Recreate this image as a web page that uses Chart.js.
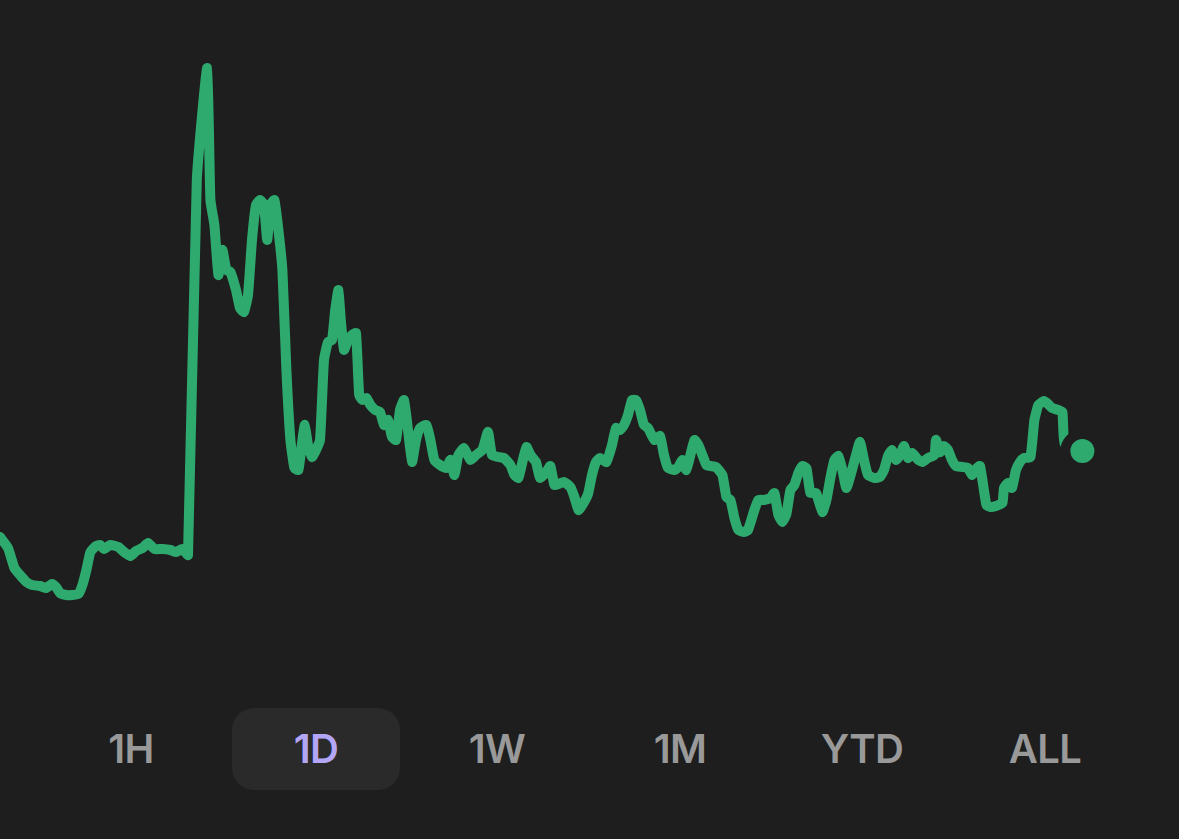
<!DOCTYPE html>
<html>
<head>
<meta charset="utf-8">
<script src="https://cdn.jsdelivr.net/npm/chart.js@4/dist/chart.umd.min.js"></script>
<style>
  html, body { margin: 0; padding: 0; background: #1e1e1e; }
  body { width: 1179px; height: 839px; position: relative; overflow: hidden; font-family: Inter, "Noto Sans", sans-serif; }
  #wrap { position: absolute; left: 0; top: 0; width: 1179px; height: 680px; }
  .btn { position: absolute; top: 708px; width: 168px; height: 82px; line-height: 82px; text-align: center;
         font-size: 40px; font-weight: 600; color: #999999; border-radius: 22px; letter-spacing: -0.6px; }
  .btn.on { background: #2a2a2a; color: #b3a6f7; }
</style>
</head>
<body>
<div id="wrap"><canvas id="grafico"></canvas></div>
<div id="botoes"></div>
<script>
// minutes since the open (1D view)
var minutos = [0,10,18,25,33,40,50,58,65,70,75,83,90,98,103,108,113,120,125,130,138,148,155,163,170,178,185,193,203,213,220,228,235,
  246,259,263,268,273,278,283,288,295,300,305,310,315,320,325,330,334,338,343,348,353,358,363,368,373,378,381,385,390,395,400,
  405,410,415,419,423,426,430,435,440,445,449,453,458,463,469,475,480,485,490,495,500,505,510,515,520,525,533,538,543,550,558,
  563,568,573,580,588,595,603,610,615,623,630,638,643,648,653,658,663,670,675,683,688,693,698,705,713,718,723,728,735,740,745,
  750,758,765,770,775,780,785,790,795,800,805,810,818,825,830,835,843,848,853,858,863,868,873,878,883,888,895,903,908,913,918,
  923,930,935,943,948,955,963,968,973,978,983,988,993,998,1003,1008,1013,1020,1028,1033,1038,1043,1048,1053,1058,1065,1070,1075,
  1080,1085,1093,1100,1105,1110,1115,1120,1125,1130,1135,1140,1148,1153,1160,1168,1170,1175,1180,1185,1190,1195,1203,1210,1215,
  1220,1225,1233,1238,1245,1253,1255,1260,1265,1270,1275,1280,1288,1293,1298,1305,1310,1315,1323,1328,1331,1353];

var precos = [46.3,45.2,43.2,42.5,41.8,41.5,41.4,41.2,41.6,41.3,40.7,40.5,40.5,40.6,41.5,43.0,44.8,45.4,45.5,45.1,45.5,45.3,44.8,44.4,44.9,45.2,45.7,45.1,45.1,45.0,44.8,45.1,44.5,
  82.0,93.2,80.0,77.5,72.5,75.0,73.0,72.8,71.0,69.2,68.8,70.5,76.0,79.5,80.0,79.5,76.0,79.5,80.0,77.0,73.0,63.0,56.0,53.2,53.0,56.0,57.5,55.5,54.3,55.0,56.0,
  64.0,65.8,66.0,69.0,71.0,68.0,65.0,66.0,66.5,66.7,60.5,60.0,60.2,59.5,59.0,58.8,57.5,58.0,56.3,56.0,59.0,60.0,57.0,53.8,56.0,57.2,57.5,56.0,54.0,53.5,53.2,
  54.0,52.5,54.5,55.2,54.0,54.5,55.0,56.8,54.5,54.3,54.2,53.5,52.5,52.2,53.8,55.3,54.5,53.8,52.2,52.8,53.4,51.5,51.6,51.8,51.3,50.3,49.0,49.5,50.6,52.5,53.8,
  54.2,53.8,55.5,57.2,57.0,57.5,58.5,60.0,60.0,59.0,57.5,57.2,56.0,56.4,54.5,53.2,53.0,53.3,54.0,53.0,54.5,56.0,55.5,54.5,53.5,53.4,53.3,52.5,50.3,50.0,48.2,
  47.0,46.8,47.0,49.0,50.0,50.0,50.2,50.7,48.5,47.8,48.6,51.0,51.5,52.7,53.4,53.2,50.7,50.7,48.8,50.0,52.2,54.0,54.4,53.0,51.2,53.0,54.5,55.8,
  54.0,52.5,52.2,52.3,53.0,54.4,55.0,54.0,54.5,55.4,54.2,54.7,54.0,53.8,54.2,54.5,56.0,54.8,55.4,55.0,54.0,53.4,53.3,53.2,52.5,
  53.1,53.4,49.5,49.3,49.4,49.7,51.2,51.7,51.2,53.0,53.8,54.2,54.3,58.0,59.5,59.9,59.6,59.2,59.0,58.8,55.6,54.9];

var periodos = ["1H", "1D", "1W", "1M", "YTD", "ALL"];
var periodoAtivo = "1D";

var verde = "#2eaa6e";
var fundo = "#1e1e1e";

function montaBotoes(){
    var centros = [131, 316, 497, 680, 862, 1045];
    var html = "";
    for (var i = 0; i < periodos.length; i++){
        var cls = periodos[i] == periodoAtivo ? "btn on" : "btn";
        html += '<div class="' + cls + '" style="left:' + (centros[i] - 84) + 'px">' + periodos[i] + '</div>';
    }
    document.getElementById("botoes").innerHTML = html;
}

function montaGrafico(){
    var pontos = [];
    for (var i = 0; i < minutos.length; i++){
        pontos.push({x: minutos[i], y: precos[i]});
    }
    var ultimo = pontos.length - 1;

    var ctx = document.getElementById("grafico");
    new Chart(ctx, {
        type: "line",
        data: {
            datasets: [{
                data: pontos,
                borderColor: verde,
                borderWidth: 10,
                borderJoinStyle: "round",
                borderCapStyle: "round",
                tension: 0.15,
                clip: false,
                pointRadius: function(c){ return c.dataIndex == ultimo ? 17 : 0; },
                pointBackgroundColor: verde,
                pointBorderColor: fundo,
                pointBorderWidth: 10,
                pointHoverRadius: 0
            }]
        },
        options: {
            responsive: true,
            maintainAspectRatio: false,
            animation: false,
            layout: { padding: 0, autoPadding: false },
            plugins: {
                legend: { display: false },
                tooltip: { enabled: false }
            },
            scales: {
                x: { type: "linear", display: false, min: 0, max: 1473.75 },
                y: { display: false, min: 32, max: 100 }
            }
        }
    });
}

montaBotoes();
montaGrafico();
</script>
</body>
</html>
